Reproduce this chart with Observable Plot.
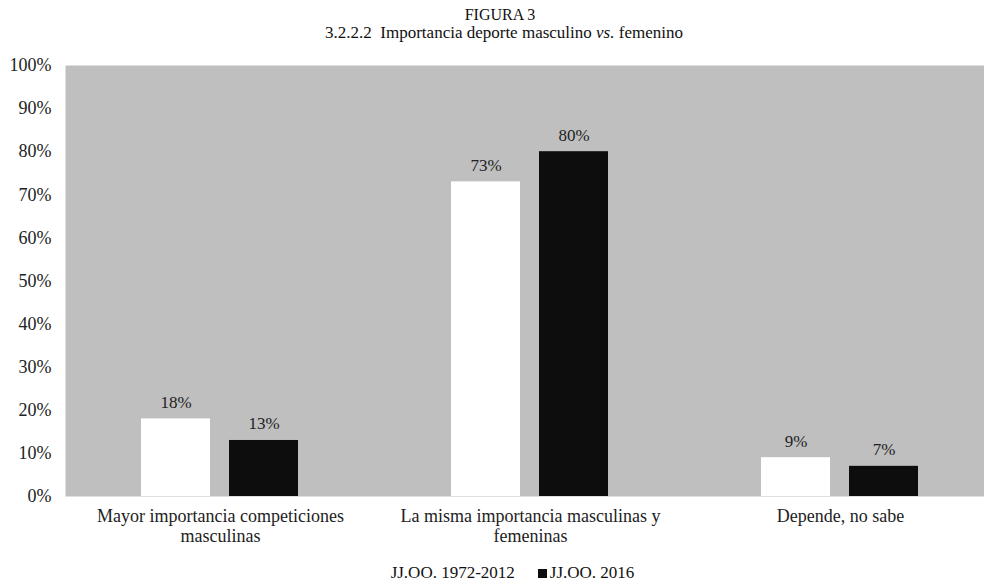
<!DOCTYPE html>
<html>
<head>
<meta charset="utf-8">
<script src="https://cdn.jsdelivr.net/npm/d3@7"></script>
<script src="https://cdn.jsdelivr.net/npm/@observablehq/plot@0.6"></script>
<style>
  html, body { margin: 0; padding: 0; background: #fff; }
  body { width: 984px; height: 582px; overflow: hidden; font-family: "Liberation Serif", serif; color: #000; }
  #title { box-sizing: border-box; height: 45px; padding-top: 6px; padding-left: 24px; text-align: center; font-family: "Liberation Serif", serif; line-height: 18px; color: #111; }
  #title .t1 { font-size: 16px; padding-right: 8px; }
  #title .t2 { font-size: 17px; }
  #chart svg, #chart svg text { font-family: "Liberation Serif", serif !important; }
  .lg-swatches { justify-content: center; min-height: 20px !important; height: 20px; margin-top: 13px; margin-left: 0 !important; padding-left: 52px; font-family: "Liberation Serif", serif !important; font-size: 17px !important; color: #111; }
  .lg-swatch { margin-right: 23px !important; }
  .lg-swatch > svg { margin-right: 3px !important; }
</style>
</head>
<body>
<div id="title"><div class="t1">FIGURA 3</div><div class="t2">3.2.2.2&nbsp; Importancia deporte masculino <i>vs.</i> femenino</div></div>
<div id="chart"></div>
<script>
const categories = [
  "Mayor importancia competiciones masculinas",
  "La misma importancia masculinas y femeninas",
  "Depende, no sabe"
];
const categoryLabels = [
  "Mayor importancia competiciones\nmasculinas",
  "La misma importancia masculinas y\nfemeninas",
  "Depende, no sabe"
];
const series = ["JJ.OO. 1972-2012", "JJ.OO. 2016"];
const values1972 = [0.18, 0.73, 0.09];
const values2016 = [0.13, 0.80, 0.07];
const seriesColors = ["#ffffff", "#0d0d0d"];
const yTicks = [0, 0.1, 0.2, 0.3, 0.4, 0.5, 0.6, 0.7, 0.8, 0.9, 1];

const data = [];
categories.forEach((c, i) => {
  data.push({category: c, series: series[0], value: values1972[i]});
  data.push({category: c, series: series[1], value: values2016[i]});
});
const labelOf = Object.fromEntries(categories.map((c, i) => [c, categoryLabels[i]]));
const pct = d3.format(".0%");

const chart = Plot.plot({
  width: 984,
  height: 505,
  marginTop: 20,
  marginBottom: 54,
  marginLeft: 65,
  marginRight: -11,
  style: {fontFamily: "'Liberation Serif', serif", fontSize: "18px", color: "#000", background: "#fff"},
  fx: {domain: categories, paddingInner: 0, paddingOuter: 0, axis: null},
  x: {domain: series, paddingInner: 0.2135, paddingOuter: 0.854, axis: null},
  y: {domain: [0, 1], axis: null},
  color: {domain: series, range: seriesColors},
  marks: [
    Plot.frame({fill: "#bfbfbf", stroke: null, facet: "super"}),
    Plot.barY(data, {fx: "category", x: "series", y: "value", fill: "series"}),
    Plot.text(data, {fx: "category", x: "series", y: "value", text: d => pct(d.value), lineAnchor: "bottom", dy: -11, fill: "#222", fontSize: 17}),
    Plot.axisY(yTicks, {tickSize: 0, tickPadding: 14, tickFormat: pct, label: null, fill: "#222", fontSize: 18}),
    Plot.axisFx({anchor: "bottom", tickSize: 0, tickPadding: 11, tickFormat: d => labelOf[d], lineHeight: 1.12, label: null, fill: "#222", fontSize: 18})
  ]
});
document.getElementById("chart").appendChild(chart);

const legend = Plot.legend({
  color: {domain: series, range: seriesColors},
  legend: "swatches",
  swatchSize: 9,
  className: "lg"
});
document.getElementById("chart").appendChild(legend);
</script>
</body>
</html>
